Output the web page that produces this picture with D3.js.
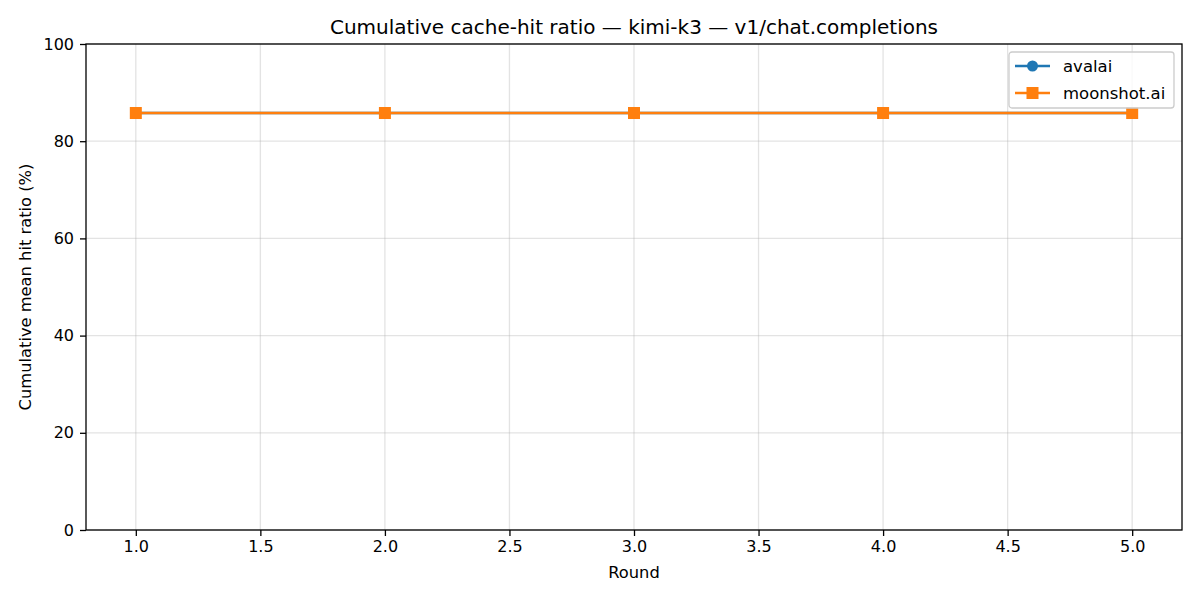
<!DOCTYPE html>
<html>
<head>
<meta charset="utf-8">
<script src="https://cdn.jsdelivr.net/npm/d3@7"></script>
<style>
  body { margin: 0; background: #fff; }
  svg { font-family: "DejaVu Sans", sans-serif; }
</style>
</head>
<body>
<svg width="1200" height="600"></svg>
<script>
const rounds = [1, 2, 3, 4, 5];
const avalai = [85.8, 85.8, 85.8, 85.8, 85.8];
const moonshot = [85.8, 85.8, 85.8, 85.8, 85.8];
const xTicks = [1.0, 1.5, 2.0, 2.5, 3.0, 3.5, 4.0, 4.5, 5.0];
const yTicks = [0, 20, 40, 60, 80, 100];

const series = [
  { name: "avalai", values: avalai, color: "#1f77b4", marker: "circle" },
  { name: "moonshot.ai", values: moonshot, color: "#ff7f0e", marker: "square" }
];

const svg = d3.select("svg");
const plotLeft = 86, plotRight = 1182, plotTop = 44, plotBottom = 530;

const xScale = d3.scaleLinear().domain([0.8, 5.2]).range([plotLeft, plotRight]);
const yScale = d3.scaleLinear().domain([0, 100]).range([plotBottom, plotTop]);

// grid
svg.append("g")
  .selectAll("line")
  .data(xTicks)
  .enter()
  .append("line")
  .attr("x1", (d) => xScale(d)).attr("x2", (d) => xScale(d))
  .attr("y1", plotTop).attr("y2", plotBottom)
  .attr("stroke", "#b0b0b0").attr("stroke-opacity", 0.35).attr("stroke-width", 1.3);

svg.append("g")
  .selectAll("line")
  .data(yTicks)
  .enter()
  .append("line")
  .attr("x1", plotLeft).attr("x2", plotRight)
  .attr("y1", (d) => yScale(d)).attr("y2", (d) => yScale(d))
  .attr("stroke", "#b0b0b0").attr("stroke-opacity", 0.35).attr("stroke-width", 1.3);

const xAxis = d3.axisBottom(xScale).tickValues(xTicks).tickFormat(d3.format(".1f")).tickSize(6).tickPadding(5);
const yAxis = d3.axisLeft(yScale).tickValues(yTicks).tickFormat(d3.format("d")).tickSize(6).tickPadding(6);

const gx = svg.append("g").attr("transform", `translate(0, ${plotBottom})`).call(xAxis);
const gy = svg.append("g").attr("transform", `translate(${plotLeft},0)`).call(yAxis);
[gx, gy].forEach((g) => {
  g.select(".domain").remove();
  g.selectAll("text").attr("font-size", 16).attr("fill", "#000").attr("font-family", "DejaVu Sans");
  g.selectAll("line").attr("stroke", "#000").attr("stroke-width", 1.3);
});

// lines and markers
const line = d3.line().x((d, i) => xScale(rounds[i])).y((d) => yScale(d));

series.forEach((s) => {
  svg.append("path")
    .datum(s.values)
    .attr("d", line)
    .attr("fill", "none")
    .attr("stroke", s.color)
    .attr("stroke-width", 2.5);

  if (s.marker === "circle") {
    svg.append("g").selectAll("circle")
      .data(s.values).enter().append("circle")
      .attr("cx", (d, i) => xScale(rounds[i]))
      .attr("cy", (d) => yScale(d))
      .attr("r", 5.5)
      .attr("fill", s.color);
  } else {
    svg.append("g").selectAll("rect")
      .data(s.values).enter().append("rect")
      .attr("x", (d, i) => xScale(rounds[i]) - 6)
      .attr("y", (d) => yScale(d) - 6)
      .attr("width", 12).attr("height", 12)
      .attr("fill", s.color);
  }
});

// frame
svg.append("rect")
  .attr("x", plotLeft).attr("y", plotTop)
  .attr("width", plotRight - plotLeft).attr("height", plotBottom - plotTop)
  .attr("fill", "none").attr("stroke", "#000").attr("stroke-width", 1.3);

// title and labels
svg.append("text")
  .attr("x", (plotLeft + plotRight) / 2).attr("y", 34)
  .attr("text-anchor", "middle").attr("font-size", 20)
  .text("Cumulative cache-hit ratio — kimi-k3 — v1/chat.completions");

svg.append("text")
  .attr("x", (plotLeft + plotRight) / 2).attr("y", 578)
  .attr("text-anchor", "middle").attr("font-size", 16.3)
  .text("Round");

svg.append("text")
  .attr("transform", `translate(31, ${(plotTop + plotBottom) / 2}) rotate(-90)`)
  .attr("text-anchor", "middle").attr("font-size", 16.3)
  .text("Cumulative mean hit ratio (%)");

// legend
const legend = svg.append("g").attr("transform", "translate(1009, 52)");
legend.append("rect")
  .attr("width", 165).attr("height", 56).attr("rx", 3)
  .attr("fill", "#fff").attr("fill-opacity", 0.8)
  .attr("stroke", "#cccccc").attr("stroke-width", 1.3);

series.forEach((s, i) => {
  const y = 14 + i * 27;
  legend.append("line")
    .attr("x1", 6).attr("x2", 41).attr("y1", y).attr("y2", y)
    .attr("stroke", s.color).attr("stroke-width", 2.5);
  if (s.marker === "circle") {
    legend.append("circle").attr("cx", 23.5).attr("cy", y).attr("r", 5.5).attr("fill", s.color);
  } else {
    legend.append("rect").attr("x", 17.5).attr("y", y - 6).attr("width", 12).attr("height", 12).attr("fill", s.color);
  }
  legend.append("text")
    .attr("x", 54).attr("y", y + 6)
    .attr("font-size", 16.5)
    .text(s.name);
});
</script>
</body>
</html>
